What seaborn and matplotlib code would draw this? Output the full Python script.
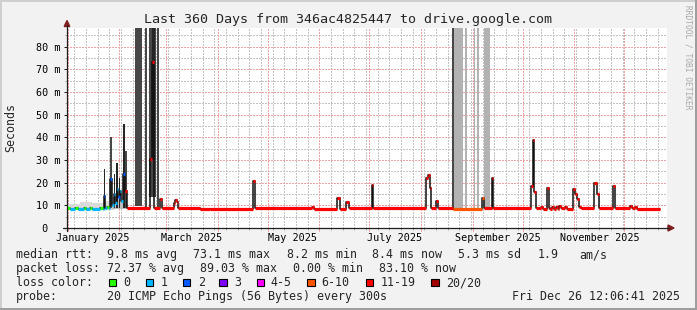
import matplotlib
matplotlib.use("Agg")
import matplotlib.pyplot as plt
import matplotlib.transforms as mtrans
from matplotlib.patches import Rectangle, Polygon
from matplotlib.lines import Line2D
import seaborn as sns
import pandas as pd
from datetime import datetime, timedelta

# ---------------- data ----------------
title = "Last 360 Days from 346ac4825447 to drive.google.com"
start_time = datetime(2024, 12, 31, 12, 6, 41)
span_days = 360
y_max = 88.3

# median rtt (ms) as step segments: segment start (days since start), value, lost pings of 20
median_day = [0.0, 1.8, 4.8, 6.6, 10.2, 11.4, 13.8, 15.0, 19.8, 21.6,
              22.2, 23.0, 24.0, 25.2, 25.8, 26.7, 27.9, 28.8, 29.7, 30.6,
              31.5, 32.4, 33.6, 34.8, 35.7, 49.5, 50.7, 52.2, 55.8, 57.0,
              63.9, 64.6, 65.8, 66.8, 79.8, 85.8, 111.6, 112.8, 147.0, 148.2,
              162.0, 163.5, 167.4, 168.9, 182.8, 183.8, 215.4, 216.6, 217.6, 218.6,
              221.4, 222.6, 231.6, 249.0, 250.2, 254.7, 255.8, 278.4, 279.4, 280.4,
              281.6, 284.4, 285.3, 287.7, 288.9, 289.8, 291.0, 291.9, 293.4, 294.3,
              295.2, 296.1, 298.8, 299.7, 303.6, 304.8, 306.0, 307.2, 308.4, 316.4,
              317.8, 318.9, 327.6, 328.8, 337.8, 339.0, 340.8, 342.0]
median_ms = [8.9, 8.6, 8.9, 8.6, 8.9, 8.6, 8.9, 8.6, 8.9, 8.6,
             14.3, 8.8, 9.2, 8.8, 21.8, 10.0, 15.0, 11.0, 17.0, 13.5,
             16.5, 12.0, 24.0, 16.2, 8.7, 30.6, 73.5, 8.7, 12.6, 8.9,
             11.0, 12.3, 11.3, 8.9, 8.6, 8.5, 20.6, 8.7, 9.3, 8.4,
             13.3, 8.6, 11.4, 8.9, 19.2, 8.8, 22.1, 23.6, 17.7, 8.8,
             12.1, 8.8, 8.5, 13.3, 8.7, 22.1, 8.7, 18.7, 38.7, 16.1,
             8.7, 9.2, 8.6, 17.5, 9.0, 8.6, 9.2, 8.6, 9.3, 8.6,
             9.6, 8.7, 9.2, 8.6, 17.4, 15.2, 12.6, 9.2, 8.7, 19.9,
             15.2, 8.7, 18.4, 8.7, 9.8, 8.8, 9.3, 8.5]
median_loss = [0, 1, 0, 1, 0, 1, 0, 1, 0, 1,
               2, 1, 0, 1, 2, 1, 1, 1, 1, 2,
               1, 1, 2, 14, 16, 16, 17, 16, 16, 16,
               16, 16, 16, 16, 16, 16, 16, 16, 16, 16,
               16, 16, 16, 16, 16, 16, 16, 16, 16, 16,
               16, 16, 8, 8, 16, 16, 16, 16, 16, 16,
               16, 16, 16, 16, 16, 16, 16, 16, 16, 16,
               16, 16, 16, 16, 16, 16, 16, 16, 16, 16,
               16, 16, 16, 16, 16, 16, 16, 16]
median_end = 355.8

# smoke (spread of the 20 pings), grouped by density
smoke_light_start = [0.0, 7.8, 15.0, 21.6]
smoke_light_end = [7.8, 15.0, 21.6, 28.8]
smoke_light_lo = [8.1, 8.1, 8.1, 8.1]
smoke_light_hi = [10.6, 11.3, 10.9, 11.8]

smoke_mid_start = [27.0]
smoke_mid_end = [36.0]
smoke_mid_lo = [8.3]
smoke_mid_hi = [13.5]

smoke_dense_start = [21.9, 27.9, 29.4, 30.9, 33.8, 51.0]
smoke_dense_end = [22.8, 28.8, 30.3, 31.8, 34.5, 52.8]
smoke_dense_lo = [8.5, 9.0, 9.0, 9.0, 9.0, 30.0]
smoke_dense_hi = [26.0, 24.0, 28.8, 22.0, 46.0, 100.0]

smoke_dark_start = [25.5, 34.5, 40.8, 46.8, 49.2, 54.0, 230.8]
smoke_dark_end = [27.0, 36.0, 45.2, 48.0, 53.2, 55.4, 232.4]
smoke_dark_lo = [9.0, 9.0, 9.6, 9.3, 13.7, 9.3, 8.3]
smoke_dark_hi = [40.2, 33.8, 100.0, 100.0, 100.0, 100.0, 100.0]

smoke_gap_start = [232.4, 238.6, 244.2, 245.8, 250.2]
smoke_gap_end = [237.6, 240.2, 244.8, 247.0, 253.8]
smoke_gap_lo = [8.3, 8.3, 8.3, 8.3, 8.3]
smoke_gap_hi = [100.0, 100.0, 100.0, 100.0, 100.0]

y_ticks = [0, 10, 20, 30, 40, 50, 60, 70, 80]
y_tick_labels = [" 0", "10 m", "20 m", "30 m", "40 m", "50 m", "60 m", "70 m", "80 m"]
x_label_months = [1, 3, 5, 7, 9, 11]
x_label_text = ["January 2025", "March 2025", "May 2025", "July 2025",
                "September 2025", "November 2025"]

legend_row1 = ["median rtt:", "9.8 ms avg", "73.1 ms max", "8.2 ms min",
               "8.4 ms now", "5.3 ms sd", "1.9", "am/s"]
legend_row2 = ["packet loss:", "72.37 % avg", "89.03 % max", "0.00 % min", "83.10 % now"]
loss_labels = ["0", "1", "2", "3", "4-5", "6-10", "11-19", "20/20"]
loss_colors = ["#26ff00", "#00b8ff", "#0059ff", "#7e00ff", "#ff00ff",
               "#ff5500", "#ff0000", "#a10000"]
probe_text = "20 ICMP Echo Pings (56 Bytes) every 300s"
stamp_text = "Fri Dec 26 12:06:41 2025"
watermark = "RRDTOOL / TOBI OETIKER"

# ---------------- style ----------------
sns.set_theme(style="white")
plt.rcParams["font.family"] = ["DejaVu Sans Mono", "DejaVu Sans"]

W, H = 697, 310
BACK = "#F2F2F2"
SHADEA = "#CFCFCF"
SHADEB = "#9E9E9E"
GRID = "#C4C4C4"
MGRID = "#EFA5A5"
TICKG = (0.56, 0.56, 0.56, 0.75)
TICKM = (0.87, 0.31, 0.31, 0.6)
ARROW = "#801F1F"
AXIS = "#1F1F1F"


def fx(x):
    return x / W


def fy(y):
    return 1 - y / H


fig = plt.figure(figsize=(W / 100, H / 100), dpi=100, facecolor=BACK)
L, R, T, B = 67, 667, 28, 228
ax = fig.add_axes([fx(L), fy(B), (R - L) / W, (B - T) / H])
ax.set_facecolor("white")
for s in ax.spines.values():
    s.set_visible(False)
ax.set_xlim(0, span_days)
ax.set_ylim(0, y_max)


def dday(dt):
    return (dt - start_time).total_seconds() / 86400.0


month_days = [dday(datetime(2025, m, 1)) for m in range(1, 13)]
sundays = []
d = datetime(2025, 1, 5)
while dday(d) < span_days:
    if d.day != 1:
        sundays.append(dday(d))
    d += timedelta(days=7)

dash = (0, (1.4, 1.4))
gkw = dict(lw=0.72, ls=dash, antialiased=False)
for v in sundays:
    ax.axvline(v, color=GRID, zorder=0.5, **gkw)
for v in range(5, 90, 10):
    ax.axhline(v, color=GRID, zorder=0.5, **gkw)
for v in month_days:
    ax.axvline(v, color=MGRID, zorder=0.6, **gkw)
for v in y_ticks[1:]:
    ax.axhline(v, color=MGRID, zorder=0.6, **gkw)


def smoke(starts, ends, los, his, color, z):
    ax.bar(starts, [h - l for h, l in zip(his, los)], bottom=los,
           width=[e - s for s, e in zip(starts, ends)], align="edge",
           color=color, linewidth=0, zorder=z)


smoke(smoke_light_start, smoke_light_end, smoke_light_lo, smoke_light_hi, "#DADADA", 1)
smoke(smoke_mid_start, smoke_mid_end, smoke_mid_lo, smoke_mid_hi, "#BDBDBD", 1.1)
smoke(smoke_gap_start, smoke_gap_end, smoke_gap_lo, smoke_gap_hi, "#B2B2B2", 1.2)
smoke(smoke_dark_start, smoke_dark_end, smoke_dark_lo, smoke_dark_hi, "#474747", 1.3)
smoke(smoke_dense_start, smoke_dense_end, smoke_dense_lo, smoke_dense_hi, "#262626", 1.4)

# median step line (black) then loss-coloured segments
df = pd.DataFrame({"day": median_day + [median_end],
                   "ms": median_ms + [median_ms[-1]]})
sns.lineplot(data=df, x="day", y="ms", drawstyle="steps-post", color="#101010",
             linewidth=1.1, estimator=None, sort=False, ax=ax, zorder=3)


def loss_color(n):
    if n <= 3:
        return loss_colors[n]
    if n <= 5:
        return loss_colors[4]
    if n <= 10:
        return loss_colors[5]
    if n <= 19:
        return loss_colors[6]
    return loss_colors[7]


ax.hlines(median_ms, median_day, median_day[1:] + [median_end],
          colors=[loss_color(n) for n in median_loss], lw=2.3, zorder=4)

ax.set_xlabel("")
ax.set_ylabel("")

# ticks
ax.set_xticks(month_days)
ax.set_xticks(sundays, minor=True)
ax.tick_params(axis="x", which="major", bottom=True, length=2.2, width=0.72,
               color=TICKM, labelbottom=False, direction="out")
ax.tick_params(axis="x", which="minor", bottom=True, length=1.5, width=0.72,
               color=TICKG, direction="out")
ax.set_yticks(y_ticks)
ax.set_yticklabels(y_tick_labels)
ax.set_yticks(list(range(5, 90, 10)), minor=True)
ax.tick_params(axis="y", which="major", left=True, length=2.2, width=0.72,
               color=AXIS, pad=20.3, labelsize=7.3, labelcolor="black", direction="out")
ax.tick_params(axis="y", which="minor", left=True, length=1.5, width=0.72,
               color=TICKG, direction="out")
for t in ax.get_yticklabels():
    t.set_ha("left")
    t.set_fontfamily(["DejaVu Sans Mono"])

blend = mtrans.blended_transform_factory(ax.transData, fig.transFigure)
for m, txt in zip(x_label_months, x_label_text):
    ax.text(dday(datetime(2025, m, 16)), fy(241), txt, transform=blend,
            ha="center", va="baseline", fontsize=7.3, color="black")

# axis lines and arrows (pixel coordinates)
tf = fig.transFigure
fig.add_artist(Line2D([fx(63), fx(669)], [fy(B), fy(B)], color=AXIS, lw=0.9, transform=tf))
fig.add_artist(Line2D([fx(L), fx(L)], [fy(231), fy(25)], color=AXIS, lw=0.9, transform=tf))
fig.add_artist(Polygon([(fx(668), fy(B - 3)), (fx(668), fy(B + 3)), (fx(674), fy(B))],
                       closed=True, color=ARROW, transform=tf))
fig.add_artist(Polygon([(fx(L - 2.8), fy(26.5)), (fx(L + 2.8), fy(26.5)), (fx(L), fy(20.5))],
                       closed=True, color=ARROW, transform=tf))

# texts
fig.text(fx(348), fy(23.3), title, ha="center", va="baseline", fontsize=9.6)
fig.text(fx(10.5), fy(127.5), "Seconds", rotation=90, ha="center", va="center", fontsize=8.4)
fig.text(fx(688), fy(5), watermark, rotation=270, ha="center", va="top",
         fontsize=5.7, color="#A8A8A8")

row1_x = [16, 107.3, 193.3, 286.7, 372.3, 458.3, 537.3, 579.3]
for x, s in zip(row1_x, legend_row1):
    fig.text(fx(x), fy(258.3), s, ha="left", va="baseline", fontsize=8.4)
row2_x = [16, 107.3, 200, 292.7, 379.3]
for x, s in zip(row2_x, legend_row2):
    fig.text(fx(x), fy(272.3), s, ha="left", va="baseline", fontsize=8.4)

fig.text(fx(16), fy(286.3), "loss color:", ha="left", va="baseline", fontsize=8.4)
box_x = [108.7, 145.7, 182.7, 219.3, 256.7, 307.3, 365.7, 431]
lab_x = [123.3, 160.7, 197.7, 234.3, 270.7, 321.7, 380.7, 445.7]
for bx, lx, lab, col in zip(box_x, lab_x, loss_labels, loss_colors):
    fig.add_artist(Rectangle((fx(bx), fy(286.3)), 7.5 / W, 7.5 / H, transform=tf,
                             facecolor=col, edgecolor="black", lw=0.8))
    fig.text(fx(lx), fy(286.3), lab, ha="left", va="baseline", fontsize=8.4)

fig.text(fx(16), fy(300.3), "probe:", ha="left", va="baseline", fontsize=8.4)
fig.text(fx(107.3), fy(300.3), probe_text, ha="left", va="baseline", fontsize=8.4)
fig.text(fx(680), fy(300.3), stamp_text, ha="right", va="baseline", fontsize=8.4)

# outer shaded frame
fig.add_artist(Rectangle((0, fy(2)), 1, 2 / H, transform=tf, color=SHADEA, lw=0))
fig.add_artist(Rectangle((0, 0), 2 / W, 1, transform=tf, color=SHADEA, lw=0))
fig.add_artist(Rectangle((0, 0), 1, 2 / H, transform=tf, color=SHADEB, lw=0))
fig.add_artist(Rectangle((fx(W - 2), 0), 2 / W, 1, transform=tf, color=SHADEB, lw=0))

fig.savefig("out.png", dpi=100, facecolor=BACK)
